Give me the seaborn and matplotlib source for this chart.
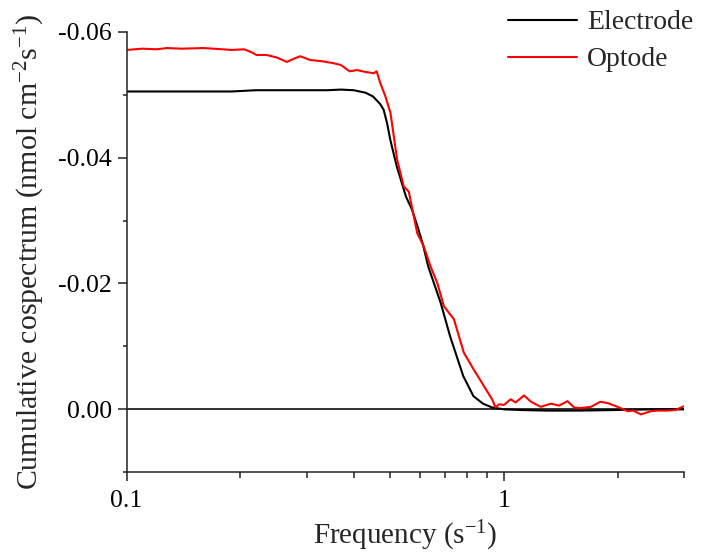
import numpy as np
import pandas as pd
import matplotlib
matplotlib.use("Agg")
import matplotlib.pyplot as plt
from matplotlib.ticker import FixedLocator, FormatStrFormatter, NullFormatter
import seaborn as sns

# values
ELECTRODE_F = [0.10, 0.13, 0.16, 0.19, 0.22, 0.26, 0.30, 0.34, 0.37, 0.40, 0.43,
               0.45, 0.47, 0.48, 0.49, 0.50, 0.52, 0.55, 0.57, 0.59, 0.61, 0.63,
               0.68, 0.72, 0.78, 0.83, 0.88, 0.93, 1.0, 1.1, 1.3, 1.6, 2.0, 2.5,
               3.0]
ELECTRODE_V = [-0.0505, -0.0505, -0.0505, -0.0505, -0.0507, -0.0507, -0.0507,
               -0.0507, -0.0508, -0.0507, -0.0503, -0.0497, -0.0485, -0.0476,
               -0.0455, -0.0428, -0.0386, -0.0338, -0.0318, -0.0291, -0.0262,
               -0.0227, -0.0169, -0.0116, -0.0053, -0.0021, -0.0009, -0.0003,
               0.0000, 0.0001, 0.0002, 0.0002, 0.0001, 0.0000, 0.0000]

OPTODE_F = [0.10, 0.11, 0.12, 0.128, 0.14, 0.16, 0.18, 0.19, 0.205, 0.215, 0.221,
            0.235, 0.25, 0.266, 0.28, 0.2885, 0.3067, 0.33, 0.353, 0.37, 0.39,
            0.408, 0.43, 0.4517, 0.46, 0.4705, 0.4853, 0.5004, 0.521, 0.5427,
            0.5596, 0.589, 0.613, 0.639, 0.6657, 0.693, 0.737, 0.783, 0.832,
            0.885, 0.93, 0.95, 0.97, 1.0, 1.042, 1.074, 1.13, 1.18, 1.252,
            1.331, 1.40, 1.473, 1.535, 1.60, 1.70, 1.80, 1.882, 2.0, 2.127,
            2.2, 2.307, 2.45, 2.555, 2.7, 2.85, 3.0]
OPTODE_V = [-0.0571, -0.0573, -0.0572, -0.0574, -0.0573, -0.0574, -0.0572,
            -0.0571, -0.0572, -0.0567, -0.0563, -0.0563, -0.0559, -0.0552,
            -0.0558, -0.0561, -0.0555, -0.0553, -0.0550, -0.0547, -0.0537,
            -0.0539, -0.0536, -0.0534, -0.0537, -0.0518, -0.0497, -0.0471,
            -0.0397, -0.0354, -0.0346, -0.0280, -0.0259, -0.0227, -0.0201,
            -0.0164, -0.0143, -0.0090, -0.0063, -0.0037, -0.0016, -0.0003,
            -0.0008, -0.0007, -0.0016, -0.0011, -0.0022, -0.0012, -0.0004,
            -0.0009, -0.0006, -0.0013, -0.0003, -0.0002, -0.0004, -0.0012,
            -0.0010, -0.0004, 0.0003, 0.0002, 0.0008, 0.0003, 0.0002, 0.0002,
            0.0001, -0.0005]

X_MAJOR = [0.1, 1]
X_MINOR = [0.2, 0.3, 0.4, 0.5, 0.6, 0.7, 0.8, 0.9, 2, 3]
Y_MAJOR = [-0.06, -0.04, -0.02, 0.00]
Y_MINOR = [-0.05, -0.03, -0.01, 0.01]

sns.set_style("ticks")
plt.rcParams.update({
    "font.family": ["Liberation Serif", "DejaVu Serif"],
    "mathtext.fontset": "custom",
    "mathtext.rm": "Liberation Serif",
    "mathtext.it": "Liberation Serif",
    "mathtext.default": "rm",
    "axes.unicode_minus": False,
    "axes.linewidth": 1.1,
    "xtick.major.width": 1.1,
    "ytick.major.width": 1.1,
    "xtick.minor.width": 1.1,
    "ytick.minor.width": 1.1,
    "xtick.color": "#222222",
    "ytick.color": "#222222",
    "xtick.labelcolor": "black",
    "ytick.labelcolor": "black",
    "axes.edgecolor": "#222222",
})

df = pd.concat([
    pd.DataFrame({"freq": ELECTRODE_F, "value": ELECTRODE_V, "sensor": "Electrode"}),
    pd.DataFrame({"freq": OPTODE_F, "value": OPTODE_V, "sensor": "Optode"}),
])

fig = plt.figure(figsize=(7.03, 5.52), dpi=100)
ax = fig.add_axes([0.180, 0.1444, 0.793, 0.7982])

ax.axhline(0, color="#222222", lw=1.3, zorder=1)
sns.lineplot(data=df, x="freq", y="value", hue="sensor", estimator=None, sort=True,
             palette={"Electrode": "black", "Optode": "#ff0000"}, lw=1.5, ax=ax)

ax.set_xscale("log")
ax.set_xlim(0.1, 3.0)
ax.set_ylim(0.01, -0.06)

ax.xaxis.set_major_locator(FixedLocator(X_MAJOR))
ax.xaxis.set_minor_locator(FixedLocator(X_MINOR))
ax.xaxis.set_major_formatter(FormatStrFormatter("%g"))
ax.xaxis.set_minor_formatter(NullFormatter())
ax.yaxis.set_major_locator(FixedLocator(Y_MAJOR))
ax.yaxis.set_minor_locator(FixedLocator(Y_MINOR))
ax.yaxis.set_major_formatter(FormatStrFormatter("%.2f"))

ax.tick_params(axis="both", which="major", length=6.5, labelsize=18.5, pad=4)
ax.tick_params(axis="x", which="major", pad=6)
ax.tick_params(axis="x", which="minor", length=4.3)
ax.tick_params(axis="y", which="minor", length=2.6)

sns.despine(ax=ax)

ax.set_xlabel(r"Frequency (s$^{-1}$)", fontsize=21, labelpad=5)
ax.set_ylabel(r"Cumulative cospectrum (nmol cm$^{-2}$s$^{-1}$)", fontsize=21.5, labelpad=8)

handles, labels = ax.get_legend_handles_labels()
ax.get_legend().remove()
fig.legend(handles, labels, loc="upper left", bbox_to_anchor=(0.7226, 0.982),
           frameon=False, fontsize=20, handlelength=2.5, handletextpad=0.35,
           labelspacing=0.42, borderpad=0, borderaxespad=0)

fig.savefig("out.png", dpi=100)
